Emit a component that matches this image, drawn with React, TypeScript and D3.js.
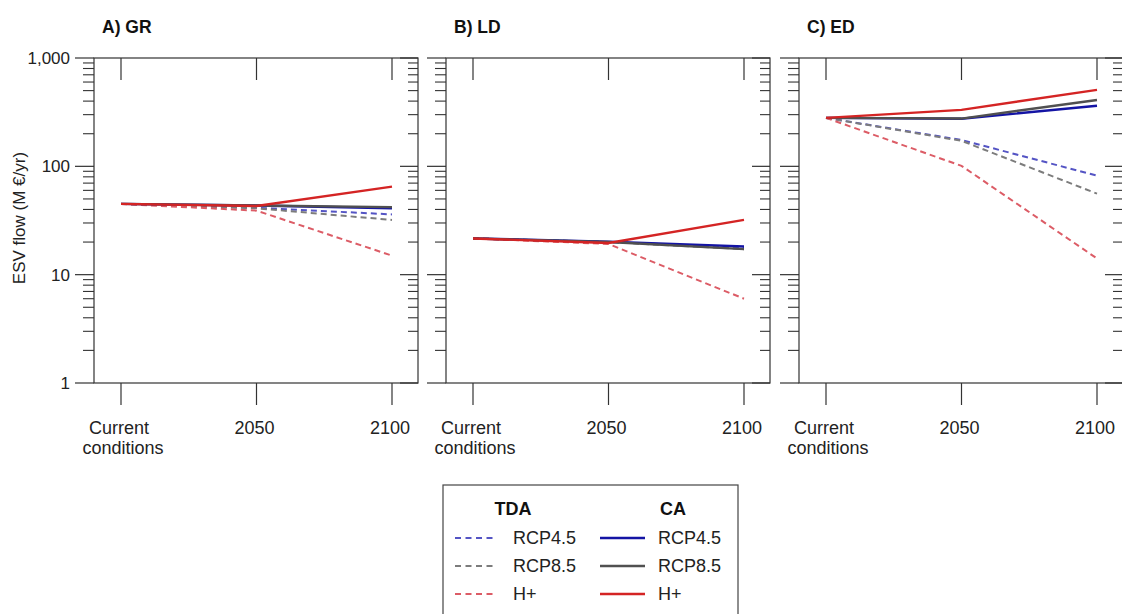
import React from "react";
import * as d3 from "d3";

const categories = ["Current conditions", "2050", "2100"];
const panelTitles = ["A) GR", "B) LD", "C) ED"];
const yTickValues = [1, 10, 100, 1000];
const seriesNames = ["TDA RCP4.5", "TDA RCP8.5", "TDA H+", "CA RCP4.5", "CA RCP8.5", "CA H+"];

// values per panel, per series [current, 2050, 2100]
const grValues = [
  [45, 41.5, 36],
  [45, 41, 32],
  [45, 39, 15],
  [45, 43.5, 41],
  [45, 43.5, 42],
  [45, 43, 65],
];
const ldValues = [
  [21.6, 20, 17.8],
  [21.6, 20, 17.2],
  [21.6, 19.2, 6.0],
  [21.6, 20.2, 18.2],
  [21.6, 20, 17.2],
  [21.6, 19.6, 32],
];
const edValues = [
  [280, 175, 82],
  [280, 172, 56],
  [280, 101, 14.1],
  [280, 275, 362],
  [280, 276, 410],
  [280, 332, 508],
];
const panelValues = [grValues, ldValues, edValues];

const seriesColors = ["#5454c4", "#7c7c7c", "#dc5c66", "#1414a4", "#505050", "#d42424"];
const seriesDashed = [true, true, true, false, false, false];

const FONT = "'Liberation Sans', Arial, sans-serif";
const frameColor = "#333";
const textColor = "#222";

const panelLefts = [94, 446, 799];
const panelWidth = 324;
const top = 58;
const bottom = 383;

function Panel({ idx }: { idx: number }) {
  const left = panelLefts[idx];
  const right = left + panelWidth;
  const x = d3.scalePoint<string>().domain(categories).range([left + 27, left + 298]);
  const y = d3.scaleLog().domain([1, 1000]).range([bottom, top]);
  const minor: number[] = [];
  for (const dec of [1, 10, 100]) for (let k = 2; k <= 9; k++) minor.push(dec * k);
  const line = d3
    .line<number>()
    .x((_, i) => x(categories[i]) as number)
    .y((v) => y(v));
  const vals = panelValues[idx];
  return (
    <g>
      <text x={left + 8} y={33} fontFamily={FONT} fontWeight="bold" fontSize={17.5} fill="#111">
        {panelTitles[idx]}
      </text>
      <rect x={left} y={top} width={right - left} height={bottom - top} fill="none" stroke={frameColor} strokeWidth={1.2} />
      {yTickValues.map((v) => (
        <g key={"M" + v}>
          <line x1={left - 19} x2={left} y1={y(v)} y2={y(v)} stroke={frameColor} strokeWidth={1.2} />
          <line x1={right - 18} x2={right} y1={y(v)} y2={y(v)} stroke={frameColor} strokeWidth={1.2} />
        </g>
      ))}
      {minor.map((v) => (
        <g key={"m" + v}>
          <line x1={left - 11} x2={left} y1={y(v)} y2={y(v)} stroke={frameColor} strokeWidth={1.1} />
          <line x1={right - 10} x2={right} y1={y(v)} y2={y(v)} stroke={frameColor} strokeWidth={1.1} />
        </g>
      ))}
      {idx === 0 &&
        yTickValues.map((v) => (
          <text key={"yl" + v} x={70} y={y(v) + 6} textAnchor="end" fontFamily={FONT} fontSize={17} fill={textColor}>
            {d3.format(",")(v)}
          </text>
        ))}
      {categories.map((c) => (
        <g key={c}>
          <line x1={x(c)} x2={x(c)} y1={top} y2={top + 22} stroke={frameColor} strokeWidth={1.2} />
          <line x1={x(c)} x2={x(c)} y1={bottom} y2={bottom + 22} stroke={frameColor} strokeWidth={1.2} />
        </g>
      ))}
      {categories.map((c) => {
        const parts = c === "Current conditions" ? ["Current", "conditions"] : [c];
        return (
          <text key={"xl" + c} x={x(c)} y={434} textAnchor="middle" fontFamily={FONT} fontSize={18} fill={textColor}>
            {parts.map((p, i) => (
              <tspan key={p} x={(x(c) as number) + (i === 1 ? 2 : -2)} dy={i === 0 ? 0 : 20}>
                {p}
              </tspan>
            ))}
          </text>
        );
      })}
      {vals.map((s, i) => (
        <path
          key={seriesNames[i]}
          d={line(s) as string}
          fill="none"
          stroke={seriesColors[i]}
          strokeWidth={seriesDashed[i] ? 2 : 2.4}
          strokeDasharray={seriesDashed[i] ? "6,4" : undefined}
        />
      ))}
    </g>
  );
}

export default function App() {
  const legendRows = ["RCP4.5", "RCP8.5", "H+"];
  return (
    <svg width={1122} height={614} style={{ position: "absolute", left: 0, top: 0, background: "#fff" }}>
      <rect x={0} y={0} width={1122} height={614} fill="#fff" />
      {[0, 1, 2].map((i) => (
        <Panel key={i} idx={i} />
      ))}
      <text transform="translate(25,218) rotate(-90)" textAnchor="middle" fontFamily={FONT} fontSize={17} fill={textColor}>
        ESV flow (M €/yr)
      </text>
      <rect x={443} y={485} width={295} height={140} fill="none" stroke="#444" strokeWidth={1.2} />
      <text x={513} y={515} textAnchor="middle" fontFamily={FONT} fontWeight="bold" fontSize={18} fill="#111">
        TDA
      </text>
      <text x={673} y={515} textAnchor="middle" fontFamily={FONT} fontWeight="bold" fontSize={18} fill="#111">
        CA
      </text>
      {legendRows.map((r, i) => {
        const yy = 538 + i * 28;
        return (
          <g key={r}>
            <line x1={455} x2={497} y1={yy} y2={yy} stroke={seriesColors[i]} strokeWidth={2} strokeDasharray="6,4.5" />
            <text x={513} y={yy + 6} fontFamily={FONT} fontSize={18} fill={textColor}>
              {r}
            </text>
            <line x1={600} x2={645} y1={yy} y2={yy} stroke={seriesColors[i + 3]} strokeWidth={2.4} />
            <text x={658} y={yy + 6} fontFamily={FONT} fontSize={18} fill={textColor}>
              {r}
            </text>
          </g>
        );
      })}
    </svg>
  );
}
